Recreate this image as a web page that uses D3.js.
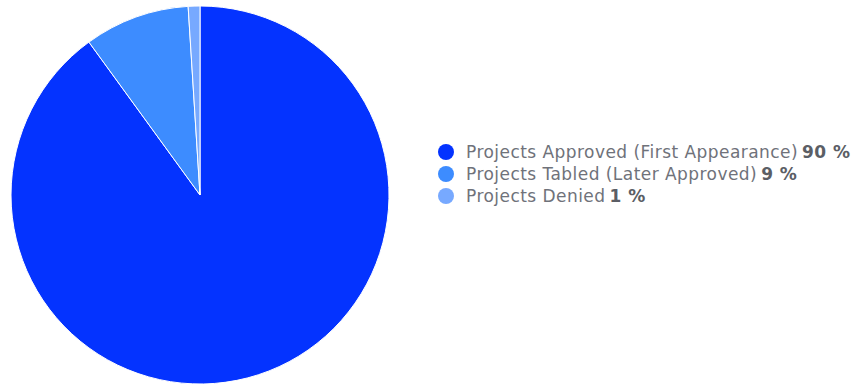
<!DOCTYPE html>
<html>
<head>
<meta charset="utf-8">
<script src="https://cdn.jsdelivr.net/npm/d3@7"></script>
<style>
  body { margin: 0; background: #fff; }
  svg { display: block; }
</style>
</head>
<body>
<div id="chart"></div>
<script>
var categories = ["Projects Approved (First Appearance)", "Projects Tabled (Later Approved)", "Projects Denied"];
var values = [90, 9, 1];
var colors = ["#0433ff", "#3d8cff", "#77a9ff"];

var width = 857, height = 385;
var cx = 200, cy = 195, radius = 189;

var svg = d3.select("#chart").append("svg")
    .attr("width", width)
    .attr("height", height);

var pie = d3.pie().sort(null).value(function(d) { return d; });
var arc = d3.arc().innerRadius(0).outerRadius(radius);

var g = svg.append("g")
    .attr("transform", "translate(" + cx + "," + cy + ")");

g.selectAll("path")
  .data(pie(values))
  .enter().append("path")
    .attr("d", arc)
    .attr("fill", function(d, i) { return colors[i]; })
    .attr("stroke", "#fff")
    .attr("stroke-width", 1);

// legend
var legend = svg.append("g")
    .attr("transform", "translate(446,152)");

var item = legend.selectAll("g")
  .data(categories)
  .enter().append("g")
    .attr("transform", function(d, i) { return "translate(0," + (i * 22) + ")"; });

item.append("circle")
    .attr("r", 8)
    .attr("fill", function(d, i) { return colors[i]; });

var text = item.append("text")
    .attr("x", 20)
    .attr("y", 6)
    .style("font-family", "'DejaVu Sans', sans-serif")
    .style("font-size", "17px")
    .style("letter-spacing", "0.45px")
    .style("fill", "#6f727a");

text.append("tspan").text(function(d) { return d; });
text.append("tspan")
    .attr("dx", 4)
    .style("font-weight", "bold")
    .style("fill", "#5b5e65")
    .text(function(d, i) { return values[i] + " %"; });
</script>
</body>
</html>
